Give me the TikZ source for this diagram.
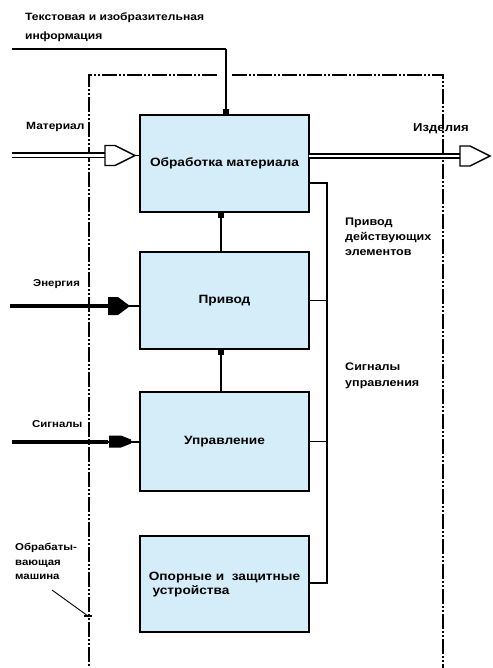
\documentclass[tikz,border=0pt]{standalone}
\usepackage{fontspec}
\setmainfont{Liberation Sans}[FakeStretch=1.14]
\usetikzlibrary{arrows.meta,calc}
\definecolor{boxfill}{RGB}{212,237,248}

\tikzset{
  block/.style={draw, line width=1.4pt, fill=boxfill, minimum width=169pt,
    inner sep=0pt, outer sep=0pt, align=center,
    font=\bfseries\fontsize{12}{15}\selectfont},
  conn/.style={line width=1.4pt},
  dotlink/.style={conn, -{Square[length=6pt,width=6pt]}},
  frame/.style={line width=1.8pt,
    dash pattern=on 15pt off 2pt on 2pt off 2pt on 2pt off 2pt},
  dblflow/.style={line width=1.7pt, double=white, double distance=2.6pt},
  heavy/.style={line width=4pt},
  lbl/.style={align=left, inner sep=0pt, anchor=north west},
  openhead/.pic={\draw[line width=1.4pt, fill=white]
      (0,0) -- (-20,-10) -- (-30,-10) -- (-30,10) -- (-20,10) -- cycle;},
  bighead/.pic={\fill (0,0) -- (-12,-9) -- (-22,-9) -- (-22,9) -- (-12,9) -- cycle;},
  smallhead/.pic={\fill (0,-2) -- (-10,-6) -- (-22,-6) -- (-22,6) -- (-10,6) -- (0,2) -- cycle;}
}

\begin{document}
\begin{tikzpicture}[x=1pt, y=-1pt, font=\bfseries\fontsize{11}{14}\selectfont]
\useasboundingbox (0,0) rectangle (492,668);

% machine boundary (dash-dot frame)
\coordinate (fTL) at (89,75);
\coordinate (fTR) at (443,75);
\coordinate (gapL) at (217,75);
\coordinate (gapR) at (232,75);
\draw[frame] (gapL) -- (fTL) -- (89,668);
\draw[frame] (gapR) -- (fTR) -- (443,668);

% functional blocks
\node[block, minimum height=97pt] (b1) at (224.5,163.5) {\raisebox{-7pt}{Обработка материала}};
\node[block, minimum height=97pt] (b2) at (224.5,300.5) {Привод};
\node[block, minimum height=99pt] (b3) at (224.5,441.5) {Управление};
\node[block, minimum height=96pt] (b4) at (224.5,584) {\raisebox{3pt}{\begin{tabular}{@{}l@{}}Опорные и\ \ защитные\\[-1pt] \ устройства\end{tabular}}};

% links between blocks
\coordinate (vx) at (221,0);
\draw[dotlink] (b2.north -| vx) -- (b1.south -| vx);
\draw[dotlink] (b3.north -| vx) -- (b2.south -| vx);

% drive bus on the right
\coordinate (bus1) at (327,183);
\coordinate (bus4) at (327,583);
\draw[conn] (b1.east |- bus1) -- (bus1) -- (bus4) -- (b4.east |- bus4);
\draw[conn] (b2.east) -- (b2.east -| bus1);
\draw[conn] (b3.east) -- (b3.east -| bus1);

% text/graphic information input
\coordinate (txtin) at (12,49);
\coordinate (txtc) at (226,49);
\draw[conn] (txtin) -- (txtc);
\draw[dotlink] (txtc) -- (b1.north -| txtc);
\node[lbl, font=\bfseries\fontsize{10.6}{19}\selectfont] (tinfo) at (25,13) {Текстовая и изобразительная\\информация};

% material input
\coordinate (matin) at (12,155.5);
\coordinate (matback) at (105,155.5);
\coordinate (mattip) at (135,155.5);
\draw[dblflow] (matin) -- (matback);
\pic at (mattip) {openhead};
\draw[conn] (mattip) -- (b1.west |- mattip);
\node[lbl, font=\bfseries\fontsize{10.5}{14}\selectfont] (lmat) at (26,122) {Материал};

% product output
\coordinate (outback) at (460,156);
\coordinate (outtip) at (490,156);
\draw[dblflow] (b1.east |- outtip) -- (outback);
\pic at (outtip) {openhead};
\node[lbl, font=\bfseries\fontsize{11.5}{14}\selectfont] (lout) at (413,123) {Изделия};

% energy input
\coordinate (enin) at (10,306);
\coordinate (enback) at (108,306);
\coordinate (entip) at (130,306);
\draw[heavy] (enin) -- (enback);
\draw[line width=2pt] (enback) -- (b2.west |- entip);
\pic at (entip) {bighead};
\node[lbl, font=\bfseries\fontsize{10}{14}\selectfont] (len) at (33,279) {Энергия};

% signal input
\coordinate (sgin) at (12,441.5);
\coordinate (sgback) at (108,441.5);
\coordinate (sgtip) at (131,441.5);
\draw[heavy] (sgin) -- (sgback);
\draw[line width=2pt] (sgback) -- (b3.west);
\pic at (sgtip) {smallhead};
\node[lbl, font=\bfseries\fontsize{10}{14}\selectfont] (lsg) at (32,420) {Сигналы};

% right-hand labels
\node[lbl, font=\bfseries\fontsize{11}{15}\selectfont] (ldrive) at (345,218) {Привод\\действующих\\элементов};
\node[lbl, font=\bfseries\fontsize{11}{16}\selectfont] (lctrl) at (345,363) {Сигналы\\управления};

% machine label with leader
\node[lbl, font=\bfseries\fontsize{10}{14.5}\selectfont] (lmach) at (15,543) {Обрабаты-\\вающая\\машина};
\coordinate (lead1) at (52,590);
\coordinate (lead2) at (88,616);
\draw[line width=0.9pt] (lead1) -- (lead2);
\draw[line width=1.6pt] ($(lead2)+(-4,0)$) -- ($(lead2)+(4,0)$);
\end{tikzpicture}
\end{document}
